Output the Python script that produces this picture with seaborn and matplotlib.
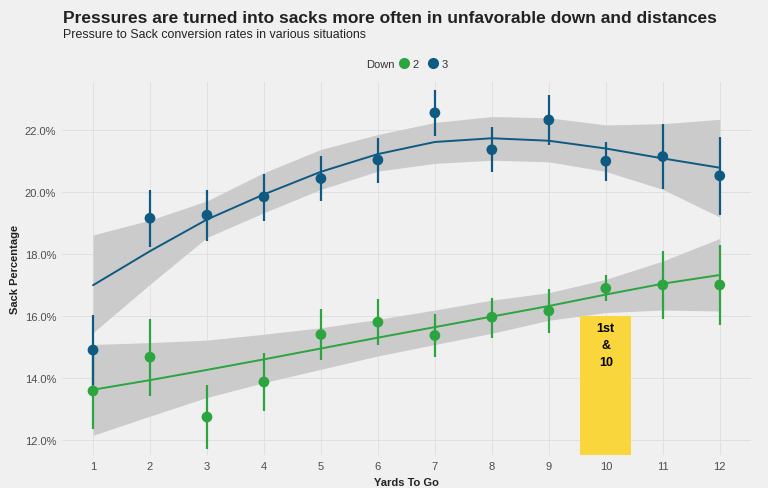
import matplotlib
matplotlib.use("Agg")
import matplotlib.pyplot as plt
from matplotlib.lines import Line2D
import numpy as np
import pandas as pd
import seaborn as sns

# ---------------- data ----------------
yards = list(range(1, 13))
downs = ["2", "3"]

down2_rate = [13.57, 14.66, 12.73, 13.86, 15.39, 15.79, 15.36, 15.95, 16.15, 16.88, 16.99, 16.99]
down2_lo = [12.33, 13.41, 11.69, 12.92, 14.57, 15.04, 14.68, 15.28, 15.45, 16.46, 15.89, 15.71]
down2_hi = [14.80, 15.90, 13.76, 14.78, 16.20, 16.53, 16.04, 16.58, 16.85, 17.30, 18.10, 18.27]

down3_rate = [14.89, 19.14, 19.24, 19.83, 20.42, 21.02, 22.54, 21.35, 22.31, 20.98, 21.13, 20.51]
down3_lo = [13.75, 18.21, 18.42, 19.05, 19.70, 20.29, 21.79, 20.63, 21.49, 20.35, 20.09, 19.23]
down3_hi = [16.02, 20.06, 20.04, 20.58, 21.14, 21.74, 23.27, 22.08, 23.13, 21.60, 22.18, 21.76]

# smoothed trend with its confidence band
down2_fit = [13.61, 13.92, 14.25, 14.59, 14.94, 15.29, 15.63, 15.97, 16.31, 16.68, 17.03, 17.31]
down2_fit_lo = [12.14, 12.76, 13.36, 13.84, 14.27, 14.70, 15.07, 15.43, 15.85, 16.10, 16.18, 16.15]
down2_fit_hi = [15.07, 15.13, 15.21, 15.40, 15.61, 15.88, 16.18, 16.50, 16.74, 17.17, 17.76, 18.49]

down3_fit = [16.98, 18.08, 19.10, 19.91, 20.64, 21.21, 21.60, 21.72, 21.64, 21.39, 21.07, 20.77]
down3_fit_lo = [15.45, 17.01, 18.52, 19.32, 20.07, 20.66, 20.91, 21.01, 20.96, 20.65, 20.07, 19.18]
down3_fit_hi = [18.60, 19.08, 19.70, 20.61, 21.36, 21.84, 22.23, 22.42, 22.38, 22.15, 22.19, 22.33]

highlight_x = [10]
highlight_top = [16.0]
highlight_label = "1st\n&\n10"

y_ticks = [12, 14, 16, 18, 20, 22]

df = pd.DataFrame({
    "yards": yards * 2,
    "down": ["2"] * 12 + ["3"] * 12,
    "rate": down2_rate + down3_rate,
    "lo": down2_lo + down3_lo,
    "hi": down2_hi + down3_hi,
    "fit": down2_fit + down3_fit,
    "fit_lo": down2_fit_lo + down3_fit_lo,
    "fit_hi": down2_fit_hi + down3_fit_hi,
})

palette = {"2": "#2ca43f", "3": "#0f5a82"}
BG = "#f0f0f0"

sns.set_style("white")
plt.rcParams["font.family"] = ["Liberation Sans", "DejaVu Sans"]

fig = plt.figure(figsize=(7.68, 4.89), dpi=100, facecolor=BG)
ax = fig.add_axes([0.0803, 0.0665, 0.8977, 0.7635])
ax.set_facecolor(BG)

# highlight bar
ax.bar(highlight_x, highlight_top, width=0.9, color="#f9d63c", zorder=1.5, linewidth=0)
ax.text(highlight_x[0], 15.04, highlight_label, ha="center", va="center",
        fontsize=9, fontweight="bold", color="black", linespacing=1.55, zorder=6)

for d in downs:
    sub = df[df["down"] == d]
    ax.fill_between(sub["yards"], sub["fit_lo"], sub["fit_hi"], color="#cbcbcb",
                    linewidth=0, zorder=1)

sns.lineplot(data=df, x="yards", y="fit", hue="down", palette=palette, ax=ax,
             linewidth=1.4, legend=False, zorder=2, errorbar=None)

for d in downs:
    sub = df[df["down"] == d]
    ax.vlines(sub["yards"], sub["lo"], sub["hi"], color=palette[d], linewidth=1.6, zorder=3)

sns.scatterplot(data=df, x="yards", y="rate", hue="down", palette=palette, ax=ax,
                s=60, linewidth=0, legend=False, zorder=4)

ax.set_xlim(0.45, 12.55)
ax.set_ylim(11.49, 23.53)
ax.set_xticks(yards)
ax.set_yticks(y_ticks)
ax.set_yticklabels([f"{v:.1f}%" for v in y_ticks])
ax.tick_params(axis="both", length=0, labelsize=8, labelcolor="#4d4d4d", pad=4)
ax.grid(True, color="#dedede", linewidth=0.6)
ax.set_axisbelow(True)
for s in ax.spines.values():
    s.set_visible(False)
ax.set_xlabel("Yards To Go", fontsize=8, fontweight="bold", color="#222222", labelpad=4)
ax.set_ylabel("Sack Percentage", fontsize=8, fontweight="bold", color="#222222", labelpad=3)

fig.text(63 / 768, 1 - 23.3 / 489, "Pressures are turned into sacks more often in unfavorable down and distances",
         fontsize=12.5, fontweight="bold", color="#222222", va="baseline", ha="left")
fig.text(63 / 768, 1 - 38.3 / 489, "Pressure to Sack conversion rates in various situations",
         fontsize=8.9, color="#222222", va="baseline", ha="left")

fig.text(395 / 768, 1 - 65 / 489, "Down", fontsize=8, color="#333333", ha="right", va="center")
handles = [Line2D([], [], marker="o", linestyle="", markersize=8, markerfacecolor=palette[d],
                  markeredgewidth=0) for d in downs]
fig.legend(handles, downs, loc="center left", bbox_to_anchor=(398 / 768, 1 - 65 / 489), ncol=2,
           frameon=False, fontsize=8, handletextpad=0.3, columnspacing=0.8, handlelength=1.0,
           borderpad=0, borderaxespad=0, labelcolor="#333333")

fig.savefig("out.png", dpi=100, facecolor=BG)
